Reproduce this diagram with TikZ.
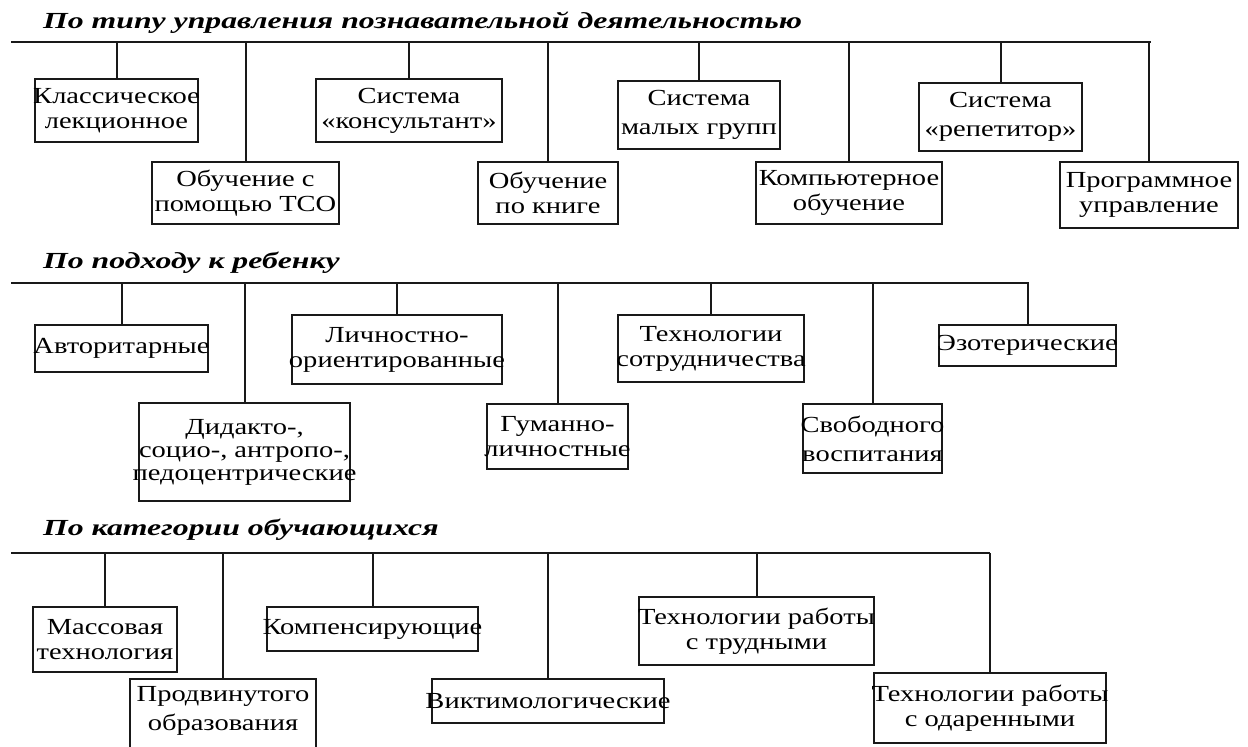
\documentclass[tikz,border=0pt]{standalone}
\usepackage{fontspec}
\setmainfont{Liberation Serif}
\newfontfamily\bodyfont[FakeStretch=1.24]{Liberation Serif}
\newfontfamily\headfont[FakeStretch=1.38]{Liberation Serif}
\tikzset{
  bx/.style={draw=black!90, line width=2pt, inner sep=0pt},
  txt/.style={inner sep=0pt, align=center, font=\bodyfont\fontsize{23}{25}\selectfont},
  wide/.style={font=\bodyfont\fontsize{23}{29}\selectfont},
  ttl/.style={anchor=base west, inner sep=0pt, font=\headfont\fontsize{23}{25}\selectfont\bfseries\itshape},
  bus/.style={draw=black!90, line width=2pt},
}
\newcommand\bxnode[7]{%
  \node[bx, minimum width=#4pt, minimum height=#5pt] (#1) at (#2,#3) {};
  \node[txt,#6] (#1t) at (#1.center) {#7};
}
\begin{document}
\begin{tikzpicture}[x=1pt,y=-1pt]
\useasboundingbox (0,0) rectangle (1248,747);

% ---- Section 1
\node[ttl] (t1) at (43,28) {По типу управления познавательной деятельностью};
\coordinate (L1) at (11,42);
\coordinate (R1) at (1151,42);
\draw[bus] (L1) -- (R1);
\bxnode{b11}{116.5}{110.5}{163}{63}{}{Классическое\\лекционное}
\bxnode{b12}{245.5}{193}{187}{62}{}{Обучение с\\помощью ТСО}
\bxnode{b13}{409}{110.5}{186}{63}{}{Система\\«консультант»}
\bxnode{b14}{548}{193}{140}{62}{}{Обучение\\по книге}
\bxnode{b15}{699}{115}{162}{68}{wide}{Система\\малых групп}
\bxnode{b16}{849}{193}{186}{62}{}{Компьютерное\\обучение}
\bxnode{b17}{1000.5}{117}{163}{68}{wide}{Система\\«репетитор»}
\bxnode{b18}{1149}{195}{178}{66}{}{Программное\\управление}
\foreach \n in {b11,b12,b13,b14,b15,b16,b17,b18}
  \draw[bus] (\n.north) -- (\n.north |- L1);

% ---- Section 2
\node[ttl] (t2) at (43,268) {По подходу к ребенку};
\coordinate (L2) at (11,283);
\coordinate (R2) at (1029,283);
\draw[bus] (L2) -- (R2);
\bxnode{b21}{121.5}{348.5}{173}{47}{}{Авторитарные}
\bxnode{b22}{244.5}{452}{211}{98}{font=\bodyfont\fontsize{23}{23}\selectfont}{Дидакто-,\\социо-, антропо-,\\педоцентрические}
\bxnode{b23}{397}{349.5}{210}{69}{}{Личностно-\\ориентированные}
\bxnode{b24}{557.5}{436.5}{141}{65}{}{Гуманно-\\личностные}
\bxnode{b25}{711}{348.5}{186}{67}{}{Технологии\\сотрудничества}
\bxnode{b26}{872.5}{438.5}{139}{69}{wide}{Свободного\\воспитания}
\bxnode{b27}{1027.5}{345.5}{177}{41}{}{Эзотерические}
\foreach \n in {b21,b22,b23,b24,b25,b26,b27}
  \draw[bus] (\n.north) -- (\n.north |- L2);

% ---- Section 3
\node[ttl] (t3) at (43,535) {По категории обучающихся};
\coordinate (L3) at (11,553);
\coordinate (R3) at (990,553);
\draw[bus] (L3) -- (R3);
\bxnode{b31}{105}{639.5}{144}{65}{}{Массовая\\технология}
\bxnode{b32}{223}{722}{186}{86}{}{}
\node[txt, wide, anchor=north] (b32t) at (223,686) {Продвинутого\\образования};
\bxnode{b33}{372.5}{629}{211}{44}{}{Компенсирующие}
\bxnode{b34}{548}{701}{232}{44}{}{Виктимологические}
\bxnode{b35}{756.5}{631}{235}{68}{}{Технологии работы\\с трудными}
\bxnode{b36}{990}{708}{232}{70}{}{Технологии работы\\с одаренными}
\foreach \n in {b31,b32,b33,b34,b35,b36}
  \draw[bus] (\n.north) -- (\n.north |- L3);
\end{tikzpicture}
\end{document}
